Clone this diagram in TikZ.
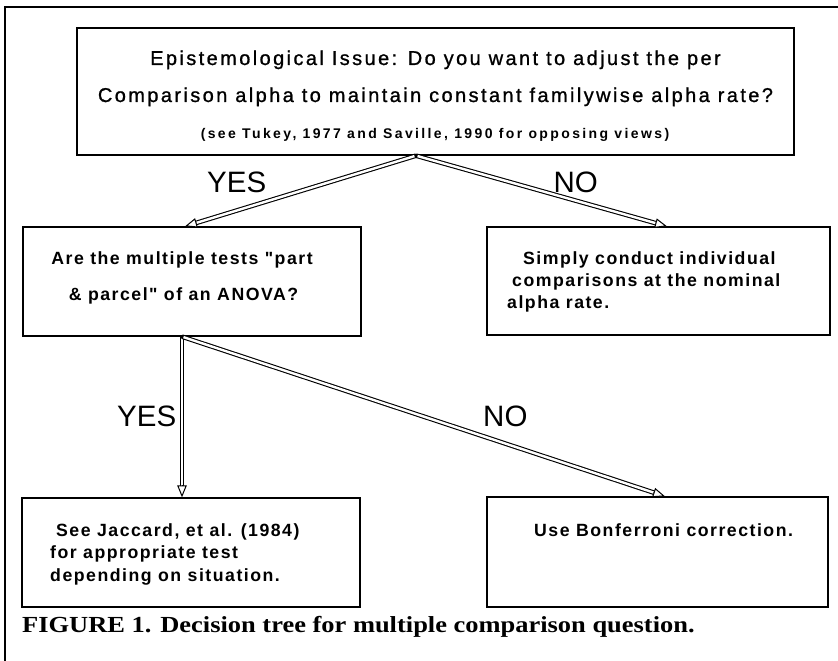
\documentclass[tikz,border=0pt]{standalone}
\usepackage{fontspec}
\setmainfont{Liberation Sans}
\newfontfamily\topfont[LetterSpace=12,FakeBold=1]{Liberation Sans}
\newfontfamily\notefont[LetterSpace=17]{Liberation Sans}
\newfontfamily\boxfont[LetterSpace=8.5]{Liberation Sans}
\newfontfamily\lblfont{Liberation Sans}
\newfontfamily\capfont{Liberation Serif}
\usetikzlibrary{arrows.meta,calc}
\newcommand\hollowarrow[2]{%
  \draw[shaftout, shorten >=8pt] (#1) -- (#2);
  \draw[shaftin, shorten >=8pt, shorten <=1.6pt] (#1) -- (#2);
  \draw[headtip] ($(#2)!12pt!(#1)$) -- (#2);}
\begin{document}
\begin{tikzpicture}[x=1pt,y=-1pt,
  box/.style={draw, line width=1.3pt, inner sep=0pt, rectangle},
  shaftout/.style={draw=black, line width=4.6pt},
  shaftin/.style={draw=white, line width=2.4pt},
  headtip/.style={draw=black, line width=1pt, -{Triangle[length=12pt, width=9.5pt, fill=white, line width=1pt]}},
  toptxt/.style={inner sep=0pt, font=\topfont\fontsize{20}{24}\selectfont},
  notetxt/.style={inner sep=0pt, font=\notefont\bfseries\fontsize{14}{17}\selectfont},
  boxtxt/.style={inner sep=0pt, font=\boxfont\bfseries\fontsize{17.7}{21}\selectfont},
  lbl/.style={inner sep=0pt, font=\lblfont\fontsize{29.5}{32}\selectfont},
  captxt/.style={inner sep=0pt, font=\capfont\bfseries\fontsize{23}{27}\selectfont}]
\useasboundingbox (0,0) rectangle (838,661);
% frame
\coordinate (fbl) at (5,661);
\coordinate (ftl) at (5,7);
\coordinate (ftr) at (838,7);
\draw[line width=2pt] (fbl) -- (ftl) -- (ftr);
% boxes
\node[box, minimum width=717pt, minimum height=127pt] (top) at (435.5,91.5) {};
\node[box, minimum width=338pt, minimum height=109pt] (ml) at (192,281.5) {};
\node[box, minimum width=343pt, minimum height=108pt] (mr) at (658.5,281) {};
\node[box, minimum width=338pt, minimum height=109pt] (bl) at (191,552.5) {};
\node[box, minimum width=341pt, minimum height=110pt] (br) at (657.5,552) {};
% texts
\node[toptxt, anchor=base] (t1a) at (435.5,65) {Epistemological Issue: Do you want to adjust the per};
\node[toptxt, anchor=base] (t1b) at (435.5,102) {Comparison alpha to maintain constant familywise alpha rate?};
\node[notetxt, anchor=base] (t1c) at (435,138) {(see Tukey, 1977 and Saville, 1990 for opposing views)};
\node[boxtxt, anchor=base] (mla) at (182,264) {Are the multiple tests "part};
\node[boxtxt, anchor=base] (mlb) at (183.5,300) {\& parcel" of an ANOVA?};
\node[boxtxt, anchor=base west] (mra) at (523,264) {Simply conduct individual};
\node[boxtxt, anchor=base west] (mrb) at (512,286) {comparisons at the nominal};
\node[boxtxt, anchor=base west] (mrc) at (507,308) {alpha rate.};
\node[boxtxt, anchor=base west] (bla) at (56,536) {See Jaccard, et al. (1984)};
\node[boxtxt, anchor=base west] (blb) at (50,558) {for appropriate test};
\node[boxtxt, anchor=base west] (blc) at (50,581) {depending on situation.};
\node[boxtxt, anchor=base west] (bra) at (534,536) {Use Bonferroni correction.};
\node[captxt, anchor=base west] (cap) at (22,632) {\scalebox{1.15}[1]{FIGURE 1. Decision tree for multiple comparison question.}};
% labels
\node[lbl, anchor=base west] (yes1) at (207,192) {YES};
\node[lbl, anchor=base east] (no1) at (598,192) {NO};
\node[lbl, anchor=base west] (yes2) at (117,426) {YES};
\node[lbl, anchor=base west] (no2) at (483,426) {NO};
% arrows
\coordinate (o1) at ([xshift=-19.5pt]top.south);
\coordinate (a1) at ([xshift=-7pt]ml.north);
\coordinate (a2) at ([xshift=8.5pt]mr.north);
\coordinate (o2) at ([xshift=-10pt]ml.south);
\coordinate (a3) at ([xshift=-9pt]bl.north);
\coordinate (a4) at ([xshift=7.5pt]br.north);
\hollowarrow{o1}{a1}
\hollowarrow{o1}{a2}
\hollowarrow{o2}{a3}
\hollowarrow{o2}{a4}
\end{tikzpicture}
\end{document}
